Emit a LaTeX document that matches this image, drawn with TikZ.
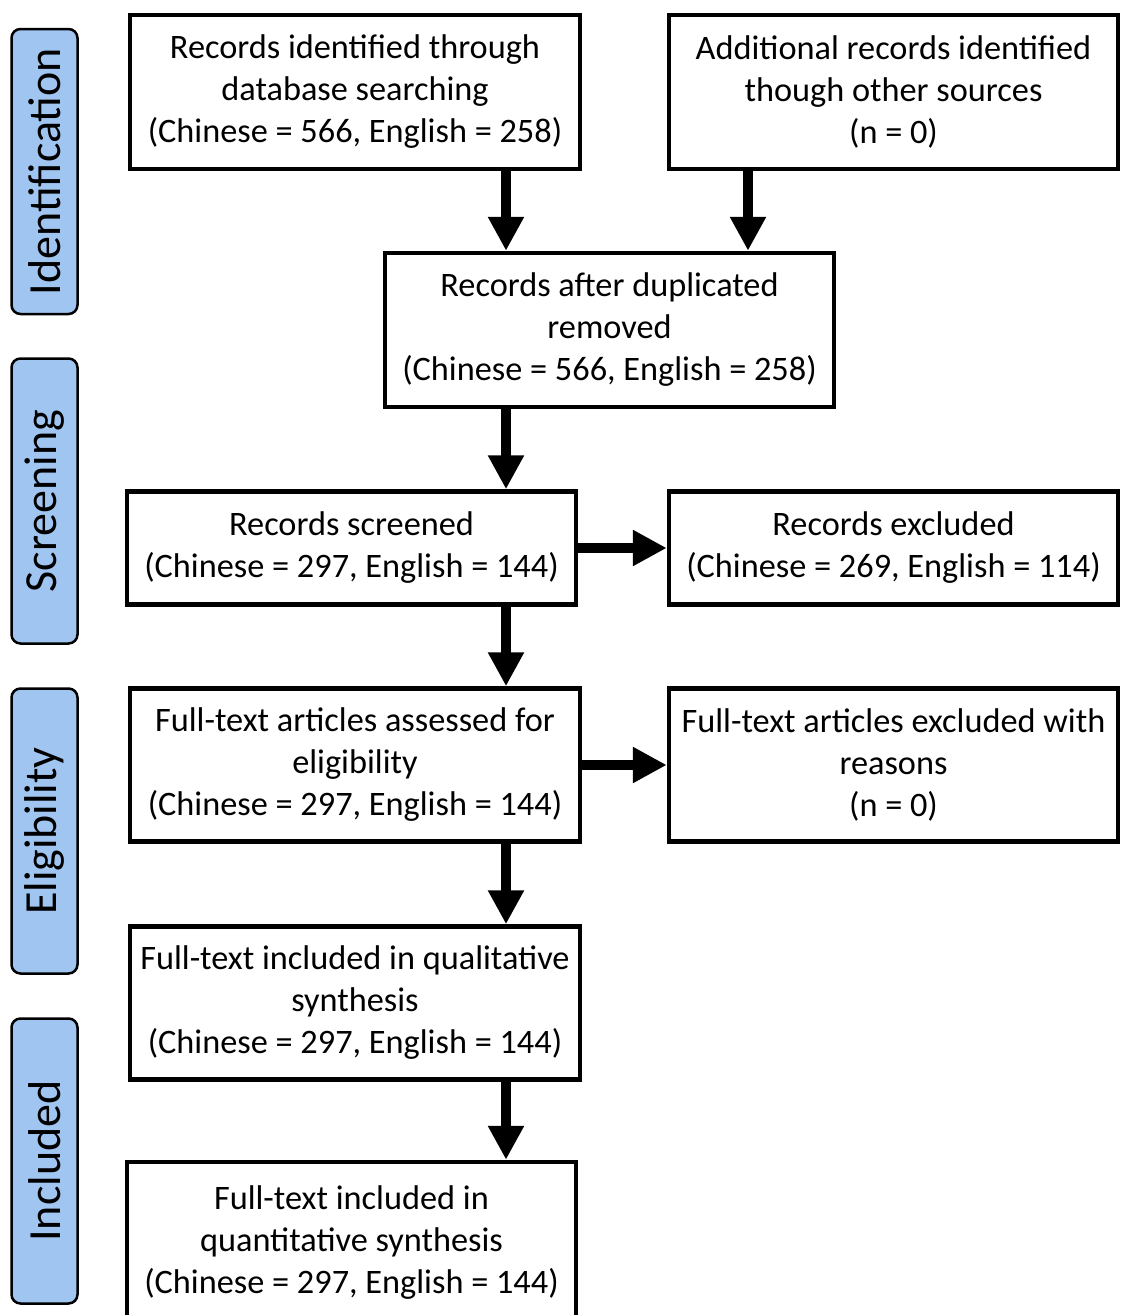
\documentclass[tikz,border=0pt]{standalone}
\usepackage{fontspec}
\setmainfont{Carlito}
\usetikzlibrary{arrows.meta}
\definecolor{sidefill}{RGB}{160,197,240}
\tikzset{
  box/.style={draw=black, line width=4.5pt, fill=white, rectangle, align=center,
    font=\fontsize{34.3}{42}\selectfont, inner sep=0pt},
  side/.style={draw=black, line width=2.5pt, fill=sidefill, rounded corners=9pt,
    rectangle, minimum width=285pt, minimum height=66pt, rotate=90,
    font=\fontsize{46}{50}\selectfont, inner sep=0pt},
  arr/.style={line width=9.5pt, -{Triangle[width=34pt,length=34pt]}}
}
\begin{document}
\begin{tikzpicture}[x=1pt,y=-1pt]
\useasboundingbox (0,0) rectangle (1123,1315);
\begin{scope}
\clip (0,0) rectangle (1123,1315);
% side labels
\node[side] (sid) at (44.5,171.5) {Identification};
\node[side] (ssc) at (44.5,501) {Screening};
\node[side] (sel) at (44.5,831) {Eligibility};
\node[side] (sin) at (44.5,1161) {Included};
% boxes
\node[box, minimum width=450pt, minimum height=154pt] (b1) at (355,92)
  {Records identified through\\database searching\\(Chinese = 566, English = 258)};
\node[box, minimum width=449pt, minimum height=154pt] (b2) at (893.5,92)
  {Additional records identified\\though other sources\\(n = 0)};
\node[box, minimum width=449pt, minimum height=154pt] (b3) at (609.5,330)
  {Records after duplicated\\removed\\(Chinese = 566, English = 258)};
\node[box, minimum width=449pt, minimum height=113pt] (b4) at (351.5,548)
  {Records screened\\(Chinese = 297, English = 144)};
\node[box, minimum width=449pt, minimum height=113pt] (b5) at (893.5,548)
  {Records excluded\\(Chinese = 269, English = 114)};
\node[box, minimum width=450pt, minimum height=153pt] (b6) at (355,765)
  {Full-text articles assessed for\\eligibility\\(Chinese = 297, English = 144)};
\node[box, minimum width=449pt, minimum height=153pt] (b7) at (893.5,765)
  {Full-text articles excluded with\\reasons\\(n = 0)};
\node[box, minimum width=450pt, minimum height=153pt] (b8) at (355,1003)
  {Full-text included in qualitative\\synthesis\\(Chinese = 297, English = 144)};
\node[box, minimum width=449pt, minimum height=162pt] (b9) at (351.5,1243)
  {Full-text included in\\quantitative synthesis\\(Chinese = 297, English = 144)};
% arrow guides
\coordinate (ax) at (506,0);
\coordinate (ay) at (748,0);
\draw[arr] (b1.south -| ax) -- (b3.north -| ax);
\draw[arr] (b2.south -| ay) -- (b3.north -| ay);
\draw[arr] (b3.south -| ax) -- (b4.north -| ax);
\draw[arr] (b4.east) -- (b5.west);
\draw[arr] (b4.south -| ax) -- (b6.north -| ax);
\draw[arr] (b6.east) -- (b7.west);
\draw[arr] (b6.south -| ax) -- (b8.north -| ax);
\draw[arr] (b8.south -| ax) -- (b9.north -| ax);
\end{scope}
\end{tikzpicture}
\end{document}
